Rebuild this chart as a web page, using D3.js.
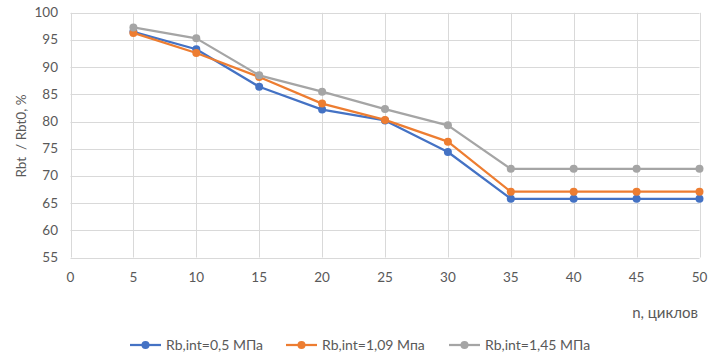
<!DOCTYPE html>
<html><head><meta charset="utf-8">
<script src="https://cdn.jsdelivr.net/npm/d3@7/dist/d3.min.js"></script>
<style>body{margin:0;background:#fff}svg text{font-family:Lato,"Open Sans",sans-serif;fill:#595959}</style>
</head><body><svg id="c" width="715" height="360"></svg>
<script>
const cycles = [5, 10, 15, 20, 25, 30, 35, 40, 45, 50];
const seriesNames = ["Rb,int=0,5 МПа", "Rb,int=1,09 Мпа", "Rb,int=1,45 МПа"];
const s1 = [96.5, 93.3, 86.4, 82.2, 80.2, 74.4, 65.8, 65.8, 65.8, 65.8];
const s2 = [96.3, 92.6, 88.2, 83.3, 80.3, 76.3, 67.1, 67.1, 67.1, 67.1];
const s3 = [97.3, 95.3, 88.5, 85.5, 82.3, 79.3, 71.3, 71.3, 71.3, 71.3];
const xTicks = [0,5,10,15,20,25,30,35,40,45,50];
const yTicks = [55,60,65,70,75,80,85,90,95,100];
const colors = ["#4472C4", "#ED7D31", "#A5A5A5"];
const data = [s1, s2, s3];

const svg = d3.select("#c");
const x = d3.scaleLinear().domain([0, 50]).range([70.5, 699.5]);
const y = d3.scaleLinear().domain([55, 100]).range([257.5, 12.8]);

const g = svg.append("g");
g.selectAll(".vg").data(xTicks).join("line")
  .attr("x1", d => Math.round(x(d)) + 0.5).attr("x2", d => Math.round(x(d)) + 0.5)
  .attr("y1", y(100)).attr("y2", y(55)).attr("stroke", "#d9d9d9").attr("stroke-width", 1);
g.selectAll(".hg").data(yTicks).join("line")
  .attr("y1", d => Math.round(y(d)) + 0.5).attr("y2", d => Math.round(y(d)) + 0.5)
  .attr("x1", x(0)).attr("x2", x(50)).attr("stroke", "#d9d9d9").attr("stroke-width", 1);

g.selectAll(".yl").data(yTicks).join("text")
  .attr("x", 58).attr("y", d => y(d) + 4.5).attr("text-anchor", "end")
  .attr("font-size", 13.5).text(d => d);
g.selectAll(".xl").data(xTicks).join("text")
  .attr("x", d => x(d)).attr("y", 282).attr("text-anchor", "middle")
  .attr("font-size", 13.5).text(d => d);

svg.append("text").attr("transform", "translate(26,136) rotate(-90)")
  .attr("text-anchor", "middle").attr("font-size", 13.5).text("Rbt  / Rbt0, %").attr("xml:space", "preserve").style("white-space", "pre");
svg.append("text").attr("x", 698).attr("y", 318).attr("text-anchor", "end")
  .attr("font-size", 15).text("n, циклов");

const line = d3.line().x((d, i) => x(cycles[i])).y(d => y(d));
data.forEach((s, k) => {
  svg.append("path").datum(s).attr("d", line).attr("fill", "none")
    .attr("stroke", colors[k]).attr("stroke-width", 2.25).attr("stroke-linejoin", "round");
  svg.selectAll(".m" + k).data(s).join("circle")
    .attr("cx", (d, i) => x(cycles[i])).attr("cy", d => y(d)).attr("r", 4)
    .attr("fill", colors[k]);
});

const legX = [130, 286, 449];
const leg = svg.selectAll(".leg").data(seriesNames).join("g")
  .attr("transform", (d, i) => `translate(${legX[i]},345)`);
leg.append("line").attr("x1", 0).attr("x2", 31).attr("stroke", (d, i) => colors[i]).attr("stroke-width", 2.25);
leg.append("circle").attr("cx", 15.5).attr("r", 4).attr("fill", (d, i) => colors[i]);
leg.append("text").attr("x", 36).attr("y", 5).attr("font-size", 14).text(d => d);
</script></body></html>
